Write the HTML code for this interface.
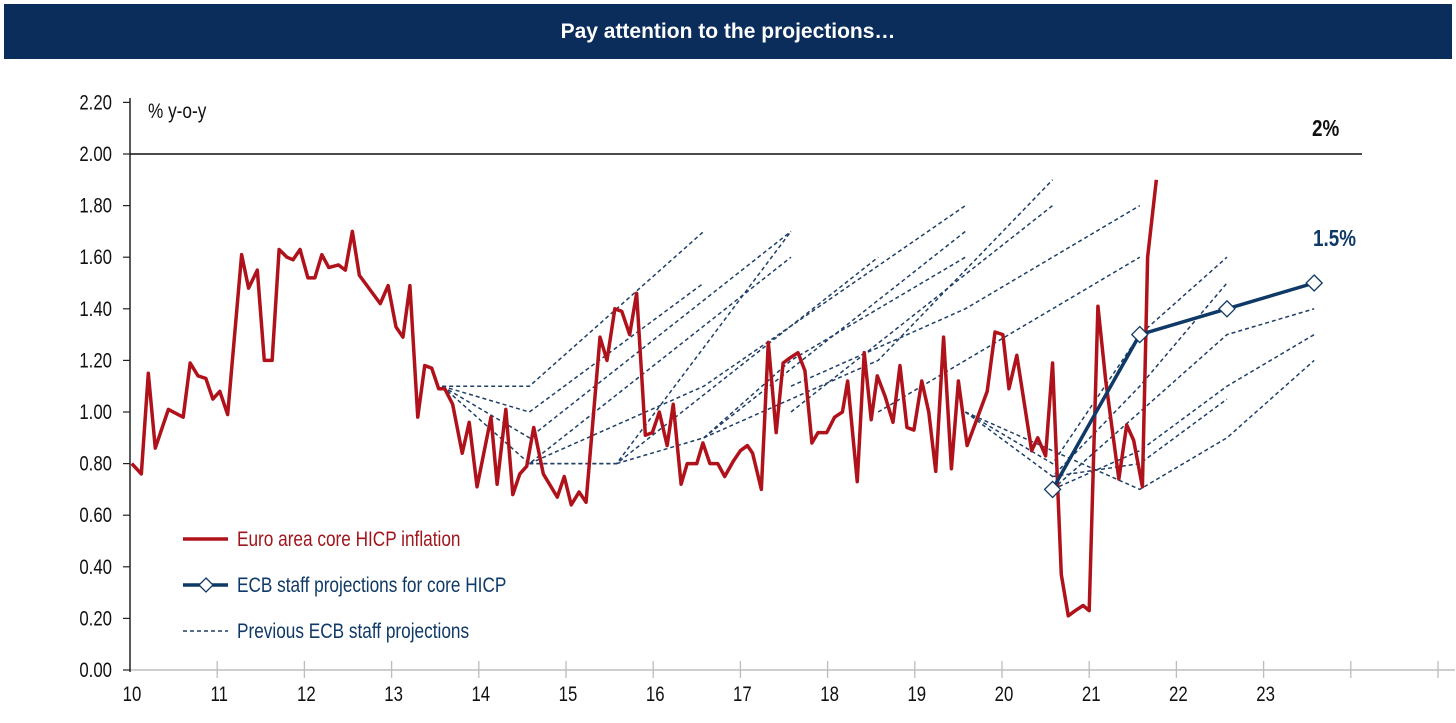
<!DOCTYPE html>
<html><head><meta charset="utf-8">
<style>
body{margin:0;width:1456px;height:723px;background:#fff;overflow:hidden;font-family:"Liberation Sans",sans-serif;}
#title{position:absolute;left:4px;top:4px;width:1448px;height:55px;background:#0b2d5c;color:#fff;font-weight:bold;font-size:21px;line-height:55px;text-align:center;}
svg{position:absolute;left:0;top:0;}
</style></head><body>
<div id="title">Pay attention to the projections…</div>
<svg id="chart" width="1456" height="723"></svg>
<script>
const yTicks=[0,0.2,0.4,0.6,0.8,1.0,1.2,1.4,1.6,1.8,2.0,2.2];
const xTickYears=[10,11,12,13,14,15,16,17,18,19,20,21,22,23];
const coreTimes=[10.02,10.13,10.21,10.29,10.44,10.61,10.69,10.78,10.87,10.95,11.03,11.12,11.28,11.36,11.46,11.54,11.63,11.71,11.80,11.87,11.95,12.04,12.12,12.20,12.28,12.39,12.47,12.55,12.63,12.87,12.96,13.05,13.13,13.21,13.30,13.38,13.46,13.54,13.61,13.70,13.81,13.89,13.98,14.14,14.21,14.31,14.39,14.47,14.55,14.63,14.74,14.90,14.98,15.06,15.15,15.23,15.39,15.47,15.56,15.64,15.73,15.81,15.91,15.99,16.07,16.16,16.23,16.32,16.39,16.50,16.57,16.65,16.74,16.82,16.92,17.00,17.08,17.14,17.24,17.32,17.41,17.49,17.57,17.66,17.74,17.82,17.89,17.99,18.08,18.17,18.23,18.34,18.42,18.50,18.57,18.66,18.75,18.83,18.91,18.99,19.08,19.16,19.24,19.33,19.42,19.50,19.60,19.83,19.92,20.01,20.08,20.17,20.34,20.41,20.50,20.58,20.68,20.76,20.84,20.93,21.00,21.10,21.19,21.34,21.43,21.51,21.61,21.67,21.77];
const coreValues=[0.80,0.76,1.15,0.86,1.01,0.98,1.19,1.14,1.13,1.05,1.08,0.99,1.61,1.48,1.55,1.20,1.20,1.63,1.60,1.59,1.63,1.52,1.52,1.61,1.56,1.57,1.55,1.70,1.53,1.42,1.49,1.33,1.29,1.49,0.98,1.18,1.17,1.09,1.09,1.03,0.84,0.96,0.71,0.98,0.72,1.01,0.68,0.76,0.79,0.94,0.76,0.67,0.75,0.64,0.69,0.65,1.29,1.20,1.40,1.39,1.30,1.46,0.91,0.92,1.00,0.87,1.03,0.72,0.80,0.80,0.88,0.80,0.80,0.75,0.81,0.85,0.87,0.84,0.70,1.27,0.92,1.19,1.21,1.23,1.16,0.88,0.92,0.92,0.98,1.00,1.12,0.73,1.23,0.97,1.14,1.06,0.96,1.18,0.94,0.93,1.12,1.00,0.77,1.29,0.78,1.12,0.87,1.08,1.31,1.30,1.09,1.22,0.85,0.90,0.83,1.19,0.37,0.21,0.23,0.25,0.23,1.41,1.12,0.74,0.95,0.89,0.71,1.60,1.90];
const projTimes=[20.58,21.58,22.58,23.58];
const projValues=[0.70,1.30,1.40,1.50];
const prevProjections=[
 [[13.58,1.10],[14.58,1.10],[16.58,1.70]],
 [[13.58,1.10],[14.58,1.00],[16.58,1.50]],
 [[13.58,1.10],[14.58,0.90],[17.58,1.70]],
 [[13.58,1.10],[14.58,0.80],[17.58,1.60]],
 [[14.58,0.80],[15.58,0.80],[17.58,1.70]],
 [[14.58,0.80],[15.58,0.80],[18.58,1.60]],
 [[14.58,0.80],[16.58,1.10],[19.58,1.80]],
 [[15.58,0.80],[16.58,0.90],[19.58,1.70]],
 [[16.58,0.90],[17.58,1.20],[19.58,1.60]],
 [[16.58,0.90],[18.58,1.20],[20.58,1.90]],
 [[17.58,1.00],[20.58,1.80]],
 [[17.58,1.10],[19.58,1.40],[21.58,1.80]],
 [[18.58,1.00],[21.58,1.60]],
 [[19.58,1.00],[20.58,0.80],[21.58,1.30],[22.58,1.60]],
 [[19.58,1.00],[20.58,0.75],[21.58,1.10],[22.58,1.50]],
 [[20.58,0.70],[21.58,1.00],[22.58,1.30],[23.58,1.40]],
 [[20.58,0.70],[21.58,0.85],[22.58,1.10],[23.58,1.30]],
 [[19.58,1.00],[21.58,0.70],[22.58,0.90],[23.58,1.20]],
 [[20.58,0.75],[21.58,0.80],[22.58,1.05]]
];
const NS="http://www.w3.org/2000/svg";
const svg=document.getElementById('chart');
const X=t=>130+(t-10)*87.2;
const Y=v=>670-v*258;
function el(tag,attrs,parent){const e=document.createElementNS(NS,tag);for(const k in attrs)e.setAttribute(k,attrs[k]);(parent||svg).appendChild(e);return e;}
function txt(s,attrs){const e=el('text',attrs);e.textContent=s;return e;}
const FONT='"Liberation Sans Narrow","Liberation Sans",sans-serif';
// x axis (gray)
const xa=el('line',{x1:129,y1:670,x2:1455,y2:670,stroke:'#bdbdbd','stroke-width':1.5});


for(let yr=11;yr<=25;yr++){const xx=X(yr);if(xx>1455)break;
 const t=el('line',{x1:xx,x2:xx,y1:661,y2:678,stroke:'#bdbdbd','stroke-width':1.3});
 
 }
// y axis
const ya=el('line',{x1:130,y1:98,x2:130,y2:672,stroke:'#222','stroke-width':1.5});


yTicks.forEach(v=>{
 const t=el('line',{x1:123,x2:130,y1:Y(v),y2:Y(v),stroke:'#222','stroke-width':1.2});
 
 
 const l=txt(v.toFixed(2),{x:112,y:Y(v)+7,'text-anchor':'end','font-size':21,'font-family':FONT,fill:'#111',transform:`matrix(0.8,0,0,1,${112*0.2},0)`});
 
 
});
xTickYears.forEach(yr=>{
 const xx=X(yr)+2;
 const l=txt(String(yr),{x:xx,y:701,'text-anchor':'middle','font-size':21,'font-family':FONT,fill:'#111',transform:`matrix(0.8,0,0,1,${xx*0.2},0)`});
 
 
});
// 2% line
const tl=el('line',{x1:130,x2:1362,y1:Y(2),y2:Y(2),stroke:'#111','stroke-width':1.6});


const t2=txt('2%',{x:1312,y:136,'font-size':23,'font-weight':'bold','font-family':FONT,fill:'#111',transform:`matrix(0.82,0,0,1,${1312*0.18},0)`});


const unit=txt('% y-o-y',{x:148,y:118,'font-size':21,'font-family':FONT,fill:'#111',transform:`matrix(0.82,0,0,1,${148*0.18},0)`});


// previous projections
prevProjections.forEach(p=>{
 const pl=el('polyline',{points:p.map(d=>X(d[0])+','+Y(d[1])).join(' '),fill:'none',stroke:'#1f3f66','stroke-width':1.5,'stroke-dasharray':'4,3'});
 
 
});
// core line
const cl=el('polyline',{points:coreTimes.map((t,i)=>X(t)+','+Y(coreValues[i])).join(' '),fill:'none',stroke:'#b0121b','stroke-width':3.5,'stroke-linejoin':'round'});


// projection line
const pl=el('polyline',{points:projTimes.map((t,i)=>X(t)+','+Y(projValues[i])).join(' '),fill:'none',stroke:'#0f3966','stroke-width':3.5});


projTimes.forEach((t,i)=>{
 const cx=X(t),cy=Y(projValues[i]);
 const d=el('polygon',{points:`${cx},${cy-8} ${cx+8},${cy} ${cx},${cy+8} ${cx-8},${cy}`,fill:'#fff',stroke:'#0f3966','stroke-width':1.3});
 
 
});
const t15=txt('1.5%',{x:1313,y:246,'font-size':23,'font-weight':'bold','font-family':FONT,fill:'#0f3966',transform:`matrix(0.82,0,0,1,${1313*0.18},0)`});


// legend
const lg=el('g',{});


el('line',{x1:183,x2:228,y1:539,y2:539,stroke:'#b0121b','stroke-width':3.5},lg);
el('line',{x1:183,x2:228,y1:585,y2:585,stroke:'#0f3966','stroke-width':3.5},lg);
el('polygon',{points:'206,578 213,585 206,592 199,585',fill:'#fff',stroke:'#0f3966','stroke-width':1.3},lg);
el('line',{x1:183,x2:228,y1:631,y2:631,stroke:'#1f3f66','stroke-width':1.5,'stroke-dasharray':'4,3'},lg);
[['Euro area core HICP inflation',546,'#a0161c'],['ECB staff projections for core HICP',592,'#0f3966'],['Previous ECB staff projections',638,'#0f3966']].forEach(a=>{
 const e=document.createElementNS(NS,'text');
 e.setAttribute('x',237);e.setAttribute('y',a[1]);e.setAttribute('font-size',21);e.setAttribute('font-family',FONT);e.setAttribute('fill',a[2]);
 e.setAttribute('transform',`matrix(0.82,0,0,1,${237*0.18},0)`);
 e.textContent=a[0];
 
 
 lg.appendChild(e);
});
</script>
</body></html>
